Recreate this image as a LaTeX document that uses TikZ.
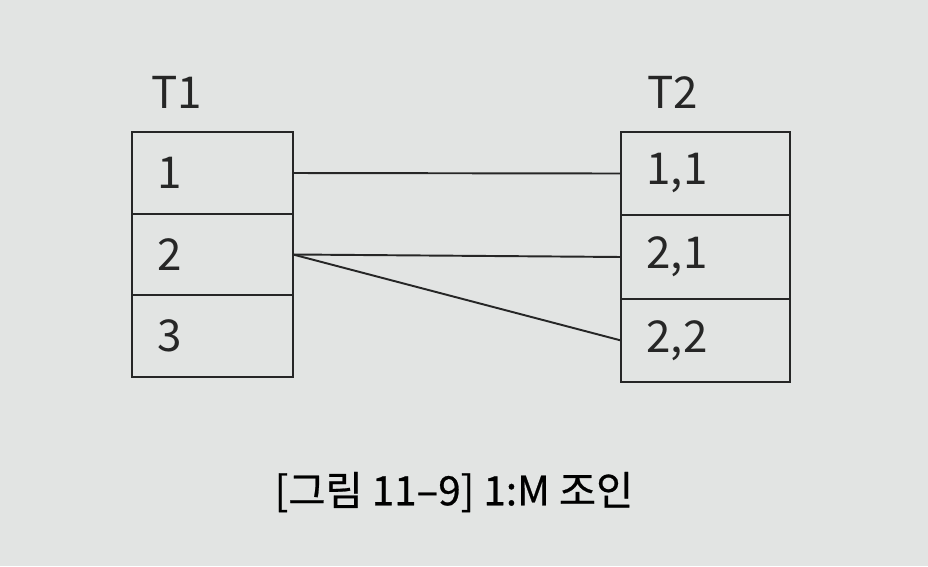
\documentclass[tikz,border=0pt]{standalone}
\usepackage{fontspec}
\setmainfont{Noto Sans CJK KR}
\newfontfamily\capfont{Noto Sans CJK KR}[FakeBold=0.6]
\usetikzlibrary{positioning}
\definecolor{paper}{RGB}{226,228,227}
\definecolor{ink}{RGB}{38,38,38}

\begin{document}
\begin{tikzpicture}[x=0.02cm, y=-0.02cm,
  leftrow/.style={draw=ink, line width=1.3pt, outer sep=0pt, minimum width=3.22cm, minimum height=1.63cm, text width=2.2cm, inner xsep=0.51cm, align=left, font=\fontsize{25}{25}\selectfont, text=ink},
  rightrow/.style={draw=ink, line width=1.3pt, outer sep=0pt, minimum width=3.38cm, minimum height=1.67cm, text width=2.36cm, inner xsep=0.51cm, align=left, font=\fontsize{25}{25}\selectfont, text=ink},
  tname/.style={font=\fontsize{25}{25}\selectfont, text=ink},
  link/.style={draw=ink, line width=1.1pt}
]
  \fill[paper] (0,0) rectangle (928,566);
  \useasboundingbox (0,0) rectangle (928,566);

  % table T1
  \node[tname] (t1name) at (177,92) {T1};
  \node[leftrow] (t1a) at (212.5,173) {1};
  \node[leftrow, below=0pt of t1a] (t1b) {2};
  \node[leftrow, below=0pt of t1b] (t1c) {3};

  % table T2
  \node[tname] (t2name) at (673,92) {T2};
  \node[rightrow] (t2a) at (705.5,173.5) {1,1};
  \node[rightrow, below=0pt of t2a] (t2b) {2,1};
  \node[rightrow, below=0pt of t2b] (t2c) {2,2};

  % 1:M links
  \draw[link] (t1a.east) -- (t2a.west);
  \draw[link] (t1b.east) -- (t2b.west);
  \draw[link] (t1b.east) -- (t2c.west);

  \node[font=\capfont\fontsize{23}{23}\selectfont, text=black] (caption) at (454,492) {[그림 11–9] 1:M 조인};
\end{tikzpicture}
\end{document}
